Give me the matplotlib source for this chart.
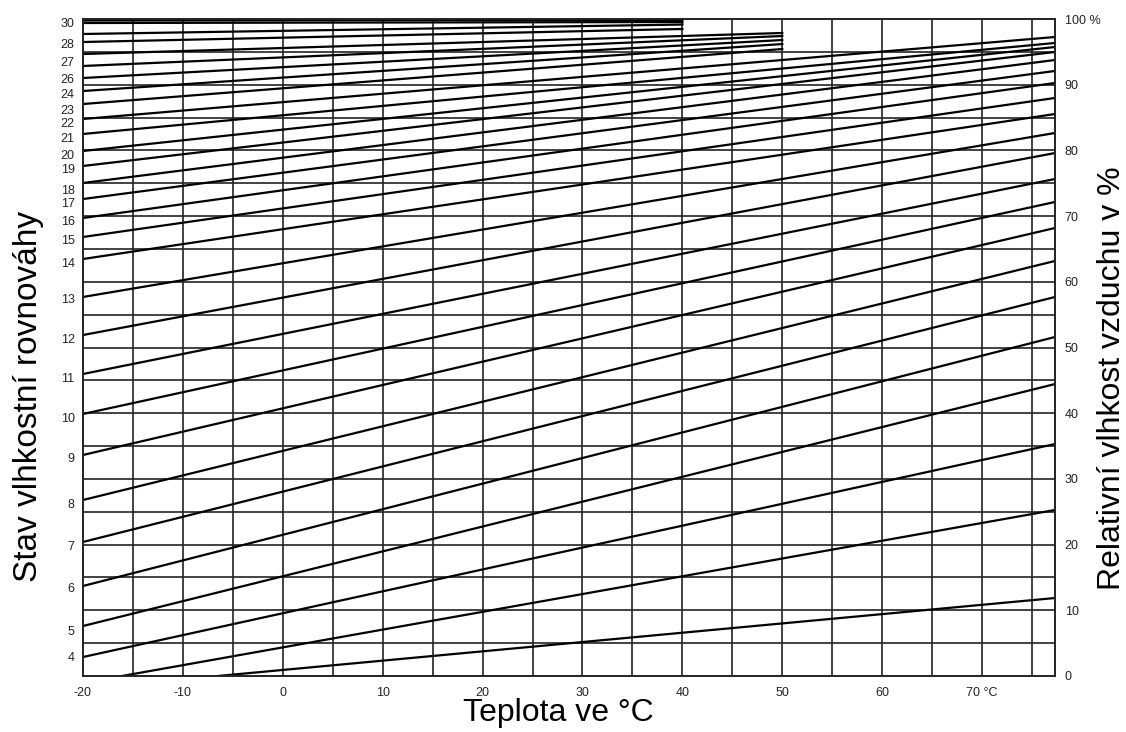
import numpy as np
import matplotlib
matplotlib.use("Agg")
import matplotlib.pyplot as plt

plt.rcParams['font.family'] = ['Liberation Sans', 'DejaVu Sans']

T_RIGHT = 77.3

# lines ending at 40 °C (start at -20 °C), values in % RH
top40_start = [99.77, 99.39, 97.72, 96.50]
top40_end = [99.85, 99.54, 99.16, 98.48]

# lines ending at 50 °C
top50_start = [94.67, 92.85, 91.02, 89.04, 87.06]
top50_end = [97.87, 97.41, 96.80, 96.19, 95.43]

# lines running from -20 °C to the right edge
full_start = [84.78, 82.50, 79.91, 77.63, 75.04, 72.60, 69.71, 66.82, 63.47,
              57.69, 51.90, 45.97, 39.88, 33.64, 26.79, 20.40, 13.70, 7.61, 2.89]
full_end = [97.26, 96.35, 95.74, 94.98, 93.76, 92.09, 90.26, 87.98, 85.54,
            82.65, 79.60, 75.65, 72.15, 68.19, 63.17, 57.69, 51.60, 44.44, 35.31]

# lines starting on the bottom edge (0 % RH) at these temperatures
bottom_t_start = [-16.1, -6.5]
bottom_end = [25.27, 11.87]

# left axis labels (moisture content) and their positions in % RH
emc_labels = [30, 28, 27, 26, 24, 23, 22, 21, 20, 19, 18, 17, 16, 15, 14,
              13, 12, 11, 10, 9, 8, 7, 6, 5, 4]
emc_pos = [99.5, 96.3, 93.6, 91.0, 88.6, 86.3, 84.3, 81.9, 79.3, 77.2, 74.1,
           72.0, 69.4, 66.5, 63.0, 57.5, 51.4, 45.5, 39.3, 33.3, 26.3, 19.9,
           13.4, 7.0, 2.9]

rh_ticks = [0, 10, 20, 30, 40, 50, 60, 70, 80, 90, 100]
rh_ticklabels = ['0', '10', '20', '30', '40', '50', '60', '70', '80', '90', '100 %']
t_ticks = [-20, -10, 0, 10, 20, 30, 40, 50, 60, 70]
t_ticklabels = ['-20', '-10', '0', '10', '20', '30', '40', '50', '60', '70 °C']

fig = plt.figure(figsize=(11.26, 7.32), dpi=100)
ax = fig.add_axes([83 / 1126, 1 - 676 / 732, 972 / 1126, 657 / 732])
ax.set_xlim(-20, T_RIGHT)
ax.set_ylim(0, 100)

# grid
ax.vlines(np.arange(-15, 76, 5), 0, 100, color='#222222', lw=1.2, zorder=1)
ax.hlines(np.arange(5, 100, 5), -20, T_RIGHT, color='#222222', lw=1.2, zorder=1)

lw = 1.6
for s, e in zip(top40_start, top40_end):
    ax.plot([-20, 40], [s, e], color='black', lw=lw, zorder=2)
for s, e in zip(top50_start, top50_end):
    ax.plot([-20, 50], [s, e], color='black', lw=lw, zorder=2)
for s, e in zip(full_start, full_end):
    ax.plot([-20, T_RIGHT], [s, e], color='black', lw=lw, zorder=2)
for t0, e in zip(bottom_t_start, bottom_end):
    ax.plot([t0, T_RIGHT], [0, e], color='black', lw=lw, zorder=2)

for s in ax.spines.values():
    s.set_linewidth(1.4)
    s.set_color('#222222')

ax.set_yticks(emc_pos, [str(v) for v in emc_labels])
ax.set_xticks(t_ticks, t_ticklabels)
ax.tick_params(length=0, labelsize=9, colors='#222222')
ax.tick_params(axis='x', pad=8)
ax.tick_params(axis='y', pad=6)

ax2 = ax.twinx()
ax2.set_ylim(0, 100)
ax2.set_yticks(rh_ticks, rh_ticklabels)
ax2.tick_params(length=0, labelsize=9, pad=7, colors='#222222')
for s in ax2.spines.values():
    s.set_visible(False)

ax.set_xlabel('Teplota ve °C', fontsize=23)
ax.xaxis.set_label_coords(0.489, -0.034)
ax.set_ylabel('Stav vlhkostní rovnováhy', fontsize=24)
ax.yaxis.set_label_coords(-0.040, 0.425)
ax2.set_ylabel('Relativní vlhkost vzduchu v %', fontsize=23, rotation=90)
ax2.yaxis.set_label_coords(1.043, 0.454)

fig.savefig('out.png', dpi=100)
